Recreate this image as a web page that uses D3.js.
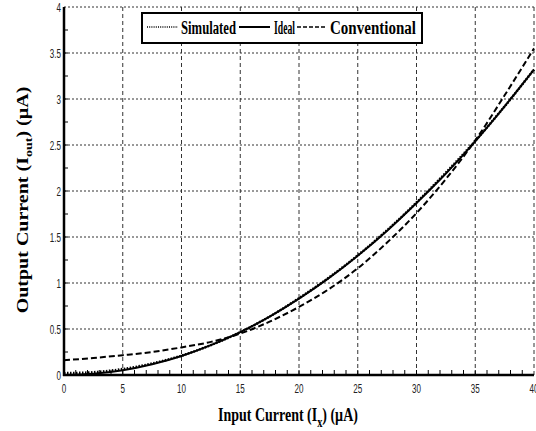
<!DOCTYPE html>
<html>
<head>
<meta charset="utf-8">
<script src="https://cdn.jsdelivr.net/npm/d3@7"></script>
<style>
  body { margin: 0; background: #fff; }
  svg { display: block; }
</style>
</head>
<body>
<svg id="chart" width="536" height="431"></svg>
<script>
// datos --------------------------------------------------------------
const inputCurrent = [0, 2.5, 5, 7.5, 10, 12.5, 15, 17.5, 20, 22.5, 25, 27.5, 30, 32.5, 35, 37.5, 40];
const simulated    = [0.02, 0.03, 0.065, 0.125, 0.21, 0.325, 0.465, 0.635, 0.835, 1.055, 1.3, 1.575, 1.875, 2.2, 2.545, 2.92, 3.32];
const ideal        = [0, 0.013, 0.052, 0.117, 0.207, 0.324, 0.467, 0.635, 0.83, 1.05, 1.297, 1.569, 1.87, 2.19, 2.54, 2.92, 3.32];
const conventional = [0.16, 0.185, 0.215, 0.25, 0.3, 0.36, 0.45, 0.58, 0.74, 0.93, 1.16, 1.44, 1.76, 2.13, 2.55, 3.04, 3.55];

const xTicks = [0, 5, 10, 15, 20, 25, 30, 35, 40];
const yTicks = [0, 0.5, 1, 1.5, 2, 2.5, 3, 3.5, 4];
const legendNames = ["Simulated", "Ideal", "Conventional"];

// configuracion ------------------------------------------------------
const svg = d3.select("#chart");
const x = d3.scaleLinear().domain([0, 40]).range([64, 534]);
const y = d3.scaleLinear().domain([0, 4]).range([375, 7]);

// ajusta el ancho de un texto (la figura original esta comprimida)
function squeeze(sel, targetWidth, ax, ay) {
  const w = sel.node().getBBox().width;
  const s = targetWidth / w;
  sel.attr("transform", `translate(${ax},${ay}) scale(${s},1) translate(${-ax},${-ay})`);
}

// cuadricula
const grid = svg.append("g");
grid.selectAll("line.v")
  .data(xTicks.filter(d => d > 0))
  .join("line")
  .attr("x1", d => x(d)).attr("x2", d => x(d))
  .attr("y1", y(0)).attr("y2", y(4))
  .attr("stroke", "#333").attr("stroke-width", 1)
  .attr("stroke-dasharray", "4,3");
grid.selectAll("line.h")
  .data(yTicks.filter(d => d > 0))
  .join("line")
  .attr("x1", x(0)).attr("x2", x(40))
  .attr("y1", d => y(d)).attr("y2", d => y(d))
  .attr("stroke", "#333").attr("stroke-width", 1)
  .attr("stroke-dasharray", "2,2");

// ticks menores hacia adentro
svg.append("g")
  .selectAll("line")
  .data(d3.range(1, 40))
  .join("line")
  .attr("x1", d => x(d)).attr("x2", d => x(d))
  .attr("y1", y(0)).attr("y2", y(0) - 5)
  .attr("stroke", "#000").attr("stroke-width", 1);
svg.append("g")
  .selectAll("line")
  .data(d3.range(1, 16).map(d => d * 0.25))
  .join("line")
  .attr("x1", x(0)).attr("x2", x(0) + 4)
  .attr("y1", d => y(d)).attr("y2", d => y(d))
  .attr("stroke", "#000").attr("stroke-width", 1);

// etiquetas de ticks
svg.append("g")
  .selectAll("text")
  .data(xTicks)
  .join("text")
  .attr("x", d => x(d)).attr("y", 393)
  .attr("text-anchor", "middle")
  .attr("font-family", "Liberation Sans, Arial, sans-serif")
  .attr("font-size", 13)
  .attr("fill", "#222")
  .text(d => d)
  .attr("transform", d => `translate(${x(d)},0) scale(0.62,1) translate(${-x(d)},0)`);
svg.append("g")
  .selectAll("text")
  .data(yTicks)
  .join("text")
  .attr("x", 61).attr("y", d => y(d) + 5)
  .attr("text-anchor", "end")
  .attr("font-family", "Liberation Sans, Arial, sans-serif")
  .attr("font-size", 13)
  .attr("fill", "#222")
  .text(d => d)
  .attr("transform", "translate(61,0) scale(0.62,1) translate(-61,0)");

// ejes
svg.append("line")
  .attr("x1", x(0)).attr("x2", x(0)).attr("y1", y(0) + 1).attr("y2", y(4))
  .attr("stroke", "#000").attr("stroke-width", 2.5);
svg.append("line")
  .attr("x1", x(0) - 1).attr("x2", x(40)).attr("y1", y(0)).attr("y2", y(0))
  .attr("stroke", "#000").attr("stroke-width", 2.5);

// curvas
const line = d3.line()
  .x(d => x(d[0]))
  .y(d => y(d[1]))
  .curve(d3.curveMonotoneX);

const series = [
  { name: "Conventional", values: conventional, dash: "6,3", width: 2 },
  { name: "Ideal", values: ideal, dash: null, width: 2 },
  { name: "Simulated", values: simulated, dash: "1.5,1.5", width: 2.5 }
];

svg.append("g")
  .selectAll("path")
  .data(series)
  .join("path")
  .attr("d", s => line(inputCurrent.map((v, i) => [v, s.values[i]])))
  .attr("fill", "none")
  .attr("stroke", "#000")
  .attr("stroke-width", s => s.width)
  .attr("stroke-dasharray", s => s.dash);

// leyenda
const legend = svg.append("g");
legend.append("rect")
  .attr("x", 142).attr("y", 13).attr("width", 280).attr("height", 30)
  .attr("fill", "#fff").attr("stroke", "#000").attr("stroke-width", 2);

const legendItems = [
  { x1: 147, x2: 178, tx: 181, tw: 55, dash: "1,1.2", width: 1.3 },
  { x1: 239, x2: 270, tx: 274, tw: 21, dash: null, width: 2 },
  { x1: 297, x2: 327, tx: 330, tw: 86, dash: "4,2", width: 1.6 }
];
legendItems.forEach((it, i) => {
  legend.append("line")
    .attr("x1", it.x1).attr("x2", it.x2).attr("y1", 27).attr("y2", 27)
    .attr("stroke", "#000").attr("stroke-width", it.width)
    .attr("stroke-dasharray", it.dash);
  legend.append("text")
    .attr("x", it.tx).attr("y", 34)
    .attr("font-family", "Liberation Serif, Times New Roman, serif")
    .attr("font-weight", "bold")
    .attr("font-size", 18)
    .attr("fill", "#000")
    .attr("textLength", it.tw)
    .attr("lengthAdjust", "spacingAndGlyphs")
    .text(legendNames[i]);
});

// titulo eje x
const xLabel = svg.append("text")
  .attr("x", 218).attr("y", 421)
  .attr("font-family", "Liberation Serif, Times New Roman, serif")
  .attr("font-weight", "bold")
  .attr("font-size", 19)
  .attr("fill", "#000");
xLabel.append("tspan").text("Input Current (I");
xLabel.append("tspan").attr("font-size", 14).attr("dy", 6).text("x");
xLabel.append("tspan").attr("dy", -6).text(") (\u00B5A)");
squeeze(xLabel, 140, 218, 421);

// titulo eje y
const yLabel = svg.append("text")
  .attr("text-anchor", "middle")
  .attr("font-family", "Liberation Serif, Times New Roman, serif")
  .attr("font-weight", "bold")
  .attr("font-size", 20)
  .attr("fill", "#000")
  .attr("transform", "translate(28,200) rotate(-90) scale(1,0.8)");
yLabel.append("tspan").text("Output Current (I");
yLabel.append("tspan").attr("font-size", 14).attr("dy", 5).text("out");
yLabel.append("tspan").attr("dy", -5).text(") (\u00B5A)");
</script>
</body>
</html>
